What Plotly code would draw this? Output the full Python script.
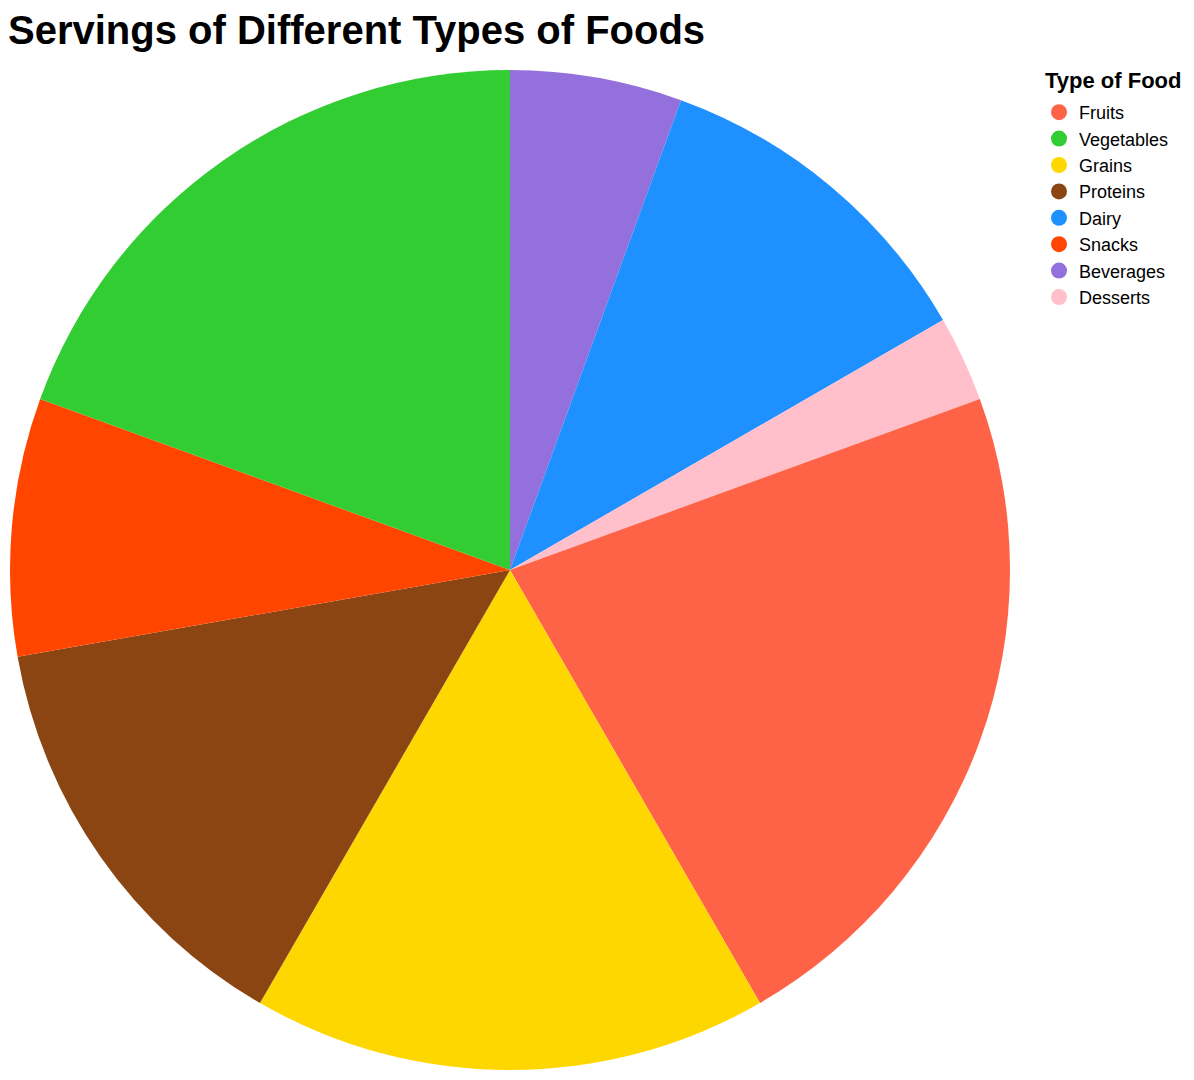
import plotly.graph_objects as go

# Data (legend order)
food_types = ["Fruits", "Vegetables", "Grains", "Proteins", "Dairy", "Snacks", "Beverages", "Desserts"]
servings = [40, 35, 30, 25, 20, 15, 10, 5]
colors = ["#FF6347", "#32CD32", "#FFD700", "#8B4513", "#1E90FF", "#FF4500", "#9370DB", "#FFC0CB"]

# slices are drawn in alphabetical order, clockwise from 12 o'clock
order = sorted(range(len(food_types)), key=lambda i: food_types[i])
pie_labels = [food_types[i] for i in order]
pie_values = [servings[i] for i in order]
pie_colors = [colors[i] for i in order]

# page body has an 8px margin; figure coordinates = screen - 8
W, H = 1186, 1064
cx, cy, r = 502, 562, 500

fig = go.Figure()
fig.add_trace(go.Pie(
    labels=pie_labels,
    values=pie_values,
    marker=dict(colors=pie_colors, line=dict(width=0)),
    sort=False,
    direction="clockwise",
    rotation=0,
    textinfo="none",
    showlegend=False,
    domain=dict(x=[(cx - r) / W, (cx + r) / W], y=[1 - (cy + r) / H, 1 - (cy - r) / H]),
))

for name, col in zip(food_types, colors):
    fig.add_trace(go.Scatter(
        x=[None], y=[None], mode="markers", name=name,
        marker=dict(color=col, size=20, symbol="circle"),
        showlegend=True,
    ))

fig.add_annotation(
    text="<b>Type of Food</b>", xref="paper", yref="paper",
    x=1035 / W, xanchor="left", y=1 - 72 / H, yanchor="middle",
    showarrow=False, font=dict(size=22, color="black"),
)

fig.update_layout(
    width=W, height=H,
    margin=dict(l=0, r=0, t=0, b=0),
    paper_bgcolor="white", plot_bgcolor="white",
    font=dict(family="Liberation Sans, Arial, sans-serif", color="black"),
    title=dict(
        text="<b>Servings of Different Types of Foods</b>",
        x=0, xanchor="left", y=1 - 21.5 / H, yanchor="middle",
        font=dict(size=40, color="black", family="Liberation Sans, Arial, sans-serif"),
    ),
    xaxis=dict(visible=False), yaxis=dict(visible=False),
    legend=dict(
        font=dict(size=18),
        x=1031 / W, xanchor="left", y=1 - 86 / H, yanchor="top",
        itemsizing="trace", tracegroupgap=0,
        bgcolor="rgba(0,0,0,0)",
    ),
)

fig.write_html("out.html")
